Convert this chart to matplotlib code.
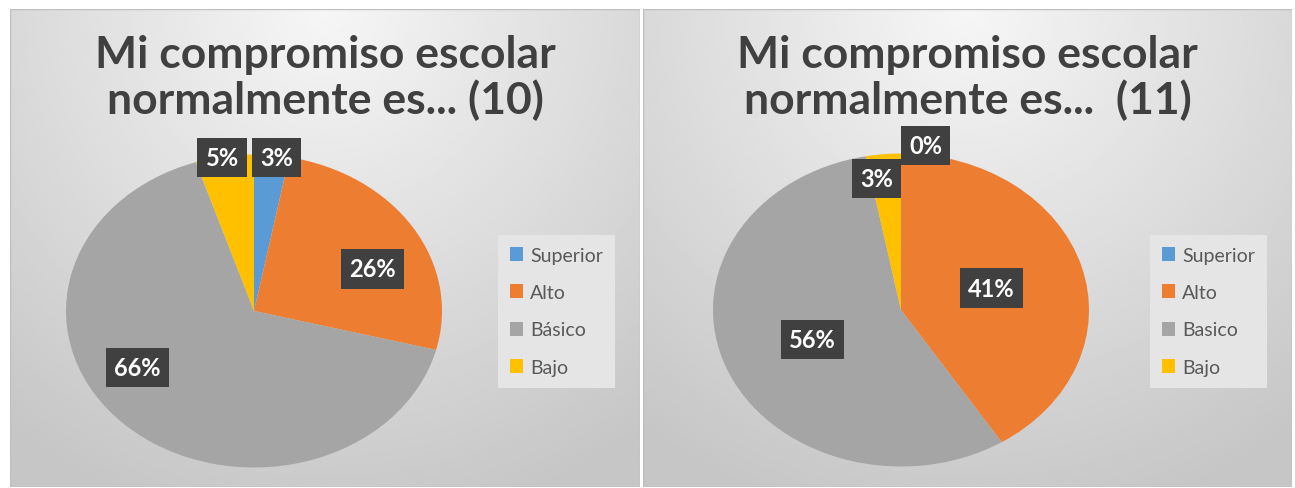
import numpy as np
import matplotlib
matplotlib.use("Agg")
import matplotlib.pyplot as plt
from matplotlib.patches import Rectangle, Patch

# datos
categorias_10 = ["Superior", "Alto", "Básico", "Bajo"]
valores_10 = [3, 26, 66, 5]
categorias_11 = ["Superior", "Alto", "Basico", "Bajo"]
valores_11 = [0, 41, 56, 3]
titulo_10 = "Mi compromiso escolar\nnormalmente es... (10)"
titulo_11 = "Mi compromiso escolar\nnormalmente es...  (11)"
colores = ["#5b9bd5", "#ed7d31", "#a5a5a5", "#ffc000"]

# posiciones de las etiquetas (coordenadas normalizadas del pastel)
pos_etq_10 = [(0.12, 0.98), (0.63, 0.27), (-0.62, -0.36), (-0.17, 0.98)]
pos_etq_11 = [(0.13, 1.05), (0.48, 0.14), (-0.47, -0.19), (-0.13, 0.84)]

W, H = 1295, 489
fig = plt.figure(figsize=(W / 100, H / 100), dpi=100)
fig.patch.set_facecolor("white")
plt.rcParams["font.family"] = ["Lato", "DejaVu Sans"]


def px_rect(x0, y0, x1, y1):
    return [x0 / W, 1 - y1 / H, (x1 - x0) / W, (y1 - y0) / H]


def panel(x0, x1, cx, cy, valores, categorias, titulo, pos_etq):
    y0, y1 = 10, 488
    ax_bg = fig.add_axes(px_rect(x0, y0, x1, y1))
    ny, nx = 200, 200
    yy, xx = np.mgrid[0:1:ny * 1j, 0:1:nx * 1j]
    r = np.sqrt(((xx - 0.5) * 1.2) ** 2 + (yy * 0.9) ** 2)
    grad = 0.965 - 0.19 * np.clip(r, 0, 1)
    ax_bg.imshow(grad, cmap="gray", vmin=0, vmax=1, aspect="auto",
                 extent=(0, 1, 0, 1), origin="upper")
    ax_bg.set_xlim(0, 1)
    ax_bg.set_ylim(0, 1)
    ax_bg.axis("off")
    ax_bg.add_patch(Rectangle((0, 0), 1, 1, transform=ax_bg.transAxes,
                              fill=False, ec="#bfbfbf", lw=1))

    # titulo
    fig.text((x0 + x1) / 2 / W, 1 - 78 / H, titulo, ha="center", va="center",
             fontsize=32, fontweight="bold", color="#404040", linespacing=1.1)

    # pastel
    rx, ry = 188, 156.5
    ax = fig.add_axes(px_rect(cx - rx, cy - ry, cx + rx, cy + ry))
    ax.pie(valores, colors=colores, startangle=90, counterclock=False,
           radius=1, wedgeprops=dict(linewidth=0))
    ax.set_aspect("auto")
    ax.set_xlim(-1, 1)
    ax.set_ylim(-1, 1)
    ax.axis("off")
    for v, (lx, ly) in zip(valores, pos_etq):
        ax.text(lx, ly, f"{v}%", ha="center", va="center", fontsize=17,
                fontweight="bold", color="white", zorder=5,
                bbox=dict(boxstyle="square,pad=0.35", fc="#404040", ec="none"))

    # leyenda
    handles = [Patch(facecolor=c, edgecolor="none") for c in colores]
    fig.legend(handles, categorias, loc="upper left",
               bbox_to_anchor=((x1 - 142) / W, 1 - 236 / H),
               frameon=True, fancybox=False, facecolor="#e5e5e5",
               edgecolor="none", framealpha=1, fontsize=14,
               labelcolor="#595959", handlelength=0.7, handleheight=0.7,
               handletextpad=0.35, labelspacing=1.05, borderpad=0.6,
               borderaxespad=0)


panel(10, 640, 254, 312, valores_10, categorias_10, titulo_10, pos_etq_10)
panel(643, 1292, 901, 311, valores_11, categorias_11, titulo_11, pos_etq_11)

fig.savefig("out.png", dpi=100, facecolor=fig.get_facecolor())
